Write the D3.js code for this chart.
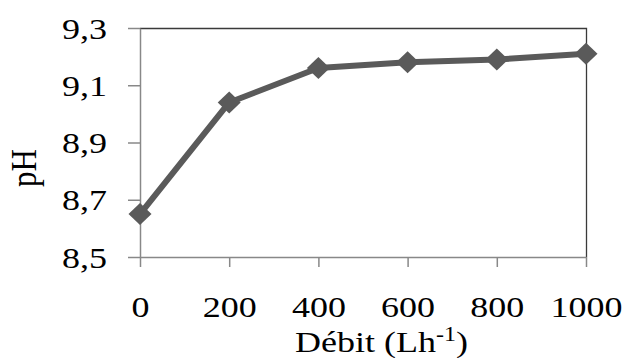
<!DOCTYPE html>
<html>
<head>
<meta charset="utf-8">
<script src="https://cdn.jsdelivr.net/npm/d3@7"></script>
<style>
  body { margin: 0; background: #fff; }
  text { font-family: "Liberation Serif", "Times New Roman", serif; fill: #000; }
</style>
</head>
<body>
<div id="chart-area"></div>
<script>
/* Data */
const debit = [0, 200, 400, 600, 800, 1000]
const ph = [8.65, 9.04, 9.16, 9.18, 9.19, 9.21]
const xTicks = [0, 200, 400, 600, 800, 1000]
const yTicks = [8.5, 8.7, 8.9, 9.1, 9.3]

const data = debit.map((d, i) => ({ debit: d, ph: ph[i] }))

/* Canvas */
const margin = { top: 28, right: 39, left: 140, bottom: 101 }
const CANVAS_WIDTH = 625
const CANVAS_HEIGHT = 358
const width = CANVAS_WIDTH - margin.left - margin.right
const height = CANVAS_HEIGHT - margin.top - margin.bottom

const $svg = d3.select('#chart-area')
  .append('svg')
  .attr('width', CANVAS_WIDTH)
  .attr('height', CANVAS_HEIGHT)

const $group = $svg.append('g')
  .attr('transform', `translate(${margin.left}, ${margin.top})`)

/* Scales */
const scaleX = d3.scaleLinear().domain([0, 1000]).range([0, width])
const scaleY = d3.scaleLinear().domain([8.5, 9.3]).range([height, 0])
const fmt = d => d3.format('.1f')(d).replace('.', ',')

// top and right frame (dark)
$group.append('path')
  .attr('d', `M0,0.5H${width + 0.5}V${height}`)
  .attr('fill', 'none')
  .attr('stroke', '#3a3a3a')
  .attr('stroke-width', 1.3)

/* Axes */
const $xAxis = $group.append('g')
  .attr('transform', `translate(0, ${height})`)
  .call(d3.axisBottom(scaleX).tickValues(xTicks).tickFormat(d3.format('d')).tickSize(10).tickSizeOuter(0))
const $yAxis = $group.append('g')
  .call(d3.axisLeft(scaleY).tickValues(yTicks).tickFormat(fmt).tickSize(12).tickSizeOuter(0))

;[$xAxis, $yAxis].forEach($a => {
  $a.attr('font-family', null).attr('font-size', null)
  $a.select('.domain').attr('stroke', '#888').attr('stroke-width', 1.5)
  $a.selectAll('.tick line').attr('stroke', '#888').attr('stroke-width', 1.5)
  $a.selectAll('text').attr('font-size', 30).attr('fill', '#000')
})

$xAxis.selectAll('text')
  .attr('y', 60).attr('dy', null)
  .attr('transform', 'scale(1.2,1)')
$yAxis.selectAll('text')
  .attr('x', 0).attr('dy', '0.34em')
  .attr('transform', 'translate(-33,0) scale(1.2,1)')

/* Line */
const line = d3.line().x(d => scaleX(d.debit)).y(d => scaleY(d.ph))
$group.append('path')
  .datum(data)
  .attr('d', line)
  .attr('fill', 'none')
  .attr('stroke', '#5a5a5a')
  .attr('stroke-width', 6)
  .attr('stroke-linejoin', 'round')

$group.selectAll('.marker')
  .data(data)
  .enter()
  .append('path')
  .attr('class', 'marker')
  .attr('d', 'M0,-11L11.5,0L0,11L-11.5,0Z')
  .attr('transform', d => `translate(${scaleX(d.debit)}, ${scaleY(d.ph)})`)
  .attr('fill', '#5a5a5a')

/* Labels */
const $xLabel = $svg.append('text')
  .attr('transform', 'translate(295, 352) scale(1.2,1)')
  .attr('font-size', 30)
$xLabel.append('tspan').text('Débit (Lh')
$xLabel.append('tspan').attr('font-size', 20).attr('dy', -11).text('-1')
$xLabel.append('tspan').attr('dy', 11).text(')')

$svg.append('text')
  .attr('transform', 'translate(36, 168) rotate(-90) scale(1,1.15)')
  .attr('text-anchor', 'middle')
  .attr('font-size', 31)
  .text('pH')
</script>
</body>
</html>
